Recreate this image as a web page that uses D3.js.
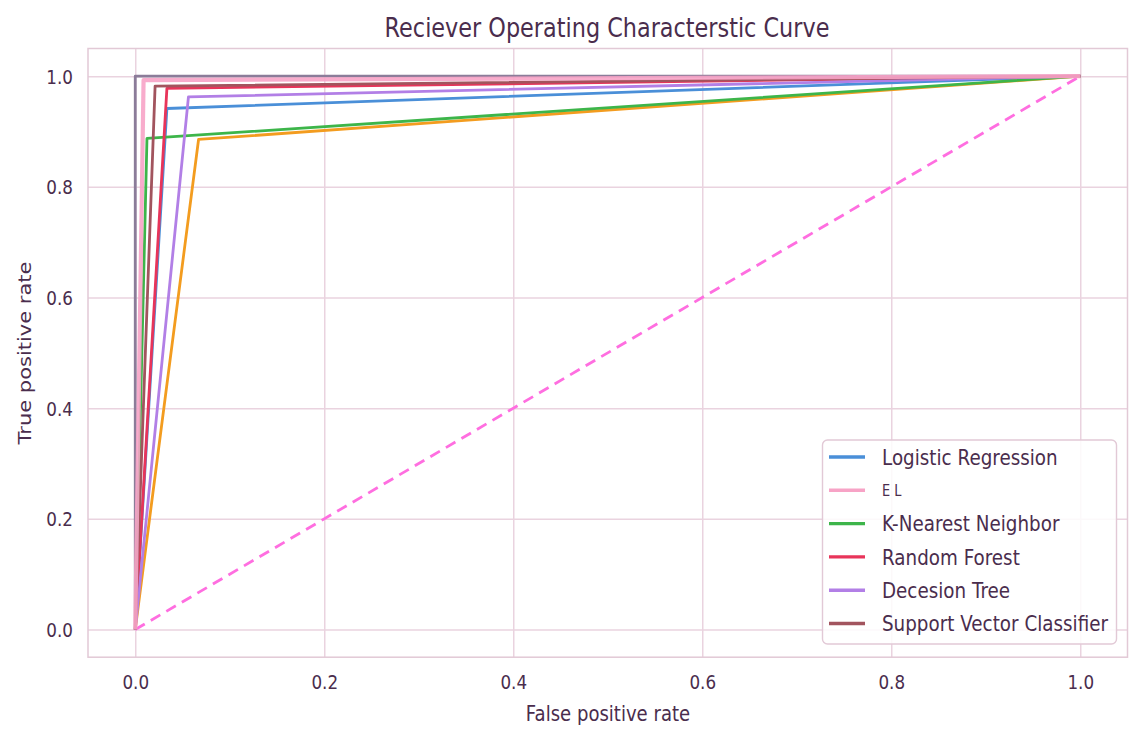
<!DOCTYPE html>
<html><head><meta charset="utf-8">
<script src="https://cdn.jsdelivr.net/npm/d3@7"></script>
<style>body{margin:0;background:#fff}</style>
</head><body>
<svg id="c" width="1132" height="734"></svg>
<script>
// ---- data ----
const xTicks = [0, 0.2, 0.4, 0.6, 0.8, 1.0];
const yTicks = [0, 0.2, 0.4, 0.6, 0.8, 1.0];
const curveNames = ["(unlabeled grey)", "Logistic Regression", "(unlabeled orange)", "K-Nearest Neighbor",
                    "Random Forest", "Decesion Tree", "Support Vector Classifier", "E L"];
const curveFPR = [[0, 0, 1], [0, 0.0335, 1], [0, 0.067, 1], [0, 0.0124, 1],
                  [0, 0.0335, 1], [0, 0.0563, 1], [0, 0.021, 1], [0, 0.0088, 1]];
const curveTPR = [[0, 1.0, 1], [0, 0.9416, 1], [0, 0.8856, 1], [0, 0.8874, 1],
                  [0, 0.978, 1], [0, 0.9626, 1], [0, 0.982, 1], [0, 0.9928, 1]];
const chanceFPR = [0, 1];
const chanceTPR = [0, 1];
const legendNames = ["Logistic Regression", "E L", "K-Nearest Neighbor", "Random Forest",
                     "Decesion Tree", "Support Vector Classifier"];
const titleText = "Reciever Operating Characterstic Curve";
const xLabel = "False positive rate";
const yLabel = "True positive rate";

// ---- styles ----
const colorMap = {
  "(unlabeled grey)": "#8b7c99",
  "Logistic Regression": "#4a8fd8",
  "(unlabeled orange)": "#f39c1f",
  "K-Nearest Neighbor": "#3db54a",
  "Random Forest": "#e8345a",
  "Decesion Tree": "#b27fe6",
  "Support Vector Classifier": "#a2545e",
  "E L": "#f7a3c6"
};
const TXT = "#4a2d4d";
const GRID = "#ead3df";
const FRAME = "#e2c9d6";
const SX = 0.86;
const FONT = "DejaVu Sans";

const svg = d3.select("#c");
const m = {left: 88, right: 1127.5, top: 48.5, bottom: 657.2};
const x = d3.scaleLinear().domain([-0.05, 1.05]).range([m.left, m.right]);
const y = d3.scaleLinear().domain([-0.05, 1.05]).range([m.bottom, m.top]);
const W = m.right - m.left, H = m.bottom - m.top;

// grid
svg.append("g").attr("transform", `translate(0,${m.bottom})`)
  .call(d3.axisBottom(x).tickValues(xTicks).tickSize(-H).tickFormat(""))
  .call(g => g.select(".domain").remove())
  .call(g => g.selectAll("line").attr("stroke", GRID).attr("stroke-width", 1.5));
svg.append("g").attr("transform", `translate(${m.left},0)`)
  .call(d3.axisLeft(y).tickValues(yTicks).tickSize(-W).tickFormat(""))
  .call(g => g.select(".domain").remove())
  .call(g => g.selectAll("line").attr("stroke", GRID).attr("stroke-width", 1.5));

// frame
svg.append("rect").attr("x", m.left).attr("y", m.top).attr("width", W).attr("height", H)
  .attr("fill", "none").attr("stroke", FRAME).attr("stroke-width", 1.5);

// tick labels through axes
svg.append("g").attr("transform", `translate(0,${m.bottom})`)
  .call(d3.axisBottom(x).tickValues(xTicks).tickSize(0).tickFormat(d3.format(".1f")))
  .call(g => g.select(".domain").remove())
  .call(g => g.selectAll("text").attr("y", null).attr("dy", null)
    .attr("transform", `translate(0,32) scale(${SX},1)`)
    .attr("font-family", FONT).attr("font-size", 19.5).attr("fill", TXT));
svg.append("g").attr("transform", `translate(${m.left},0)`)
  .call(d3.axisLeft(y).tickValues(yTicks).tickSize(0).tickFormat(d3.format(".1f")))
  .call(g => g.select(".domain").remove())
  .call(g => g.selectAll("text").attr("x", null).attr("dy", "0.36em")
    .attr("transform", `translate(-15,0) scale(${SX},1)`)
    .attr("font-family", FONT).attr("font-size", 19.5).attr("fill", TXT));

// diagonal
const line = d3.line().x(d => x(d[0])).y(d => y(d[1]));
svg.append("path").datum(d3.zip(chanceFPR, chanceTPR)).attr("d", line)
  .attr("fill", "none").attr("stroke", "#ff6ee0").attr("stroke-width", 2.8)
  .attr("stroke-dasharray", "11,7");

// curves
curveNames.forEach((name, i) => {
  const isEL = name === "E L";
  svg.append("path").datum(d3.zip(curveFPR[i], curveTPR[i])).attr("d", line)
    .attr("fill", "none").attr("stroke", colorMap[name])
    .attr("stroke-width", isEL ? 4.2 : 2.8).attr("stroke-opacity", isEL ? 0.9 : 1)
    .attr("stroke-linejoin", "round");
});

// text helper
function sqText(t, tx, ty, size, anchor, rot) {
  return svg.append("text").text(t)
    .attr("transform", `translate(${tx},${ty}) scale(${SX},1)` + (rot ? ` rotate(${rot})` : ""))
    .attr("font-family", FONT).attr("font-size", size).attr("fill", TXT)
    .attr("text-anchor", anchor);
}
sqText(titleText, 607, 37, 26, "middle");
sqText(xLabel, 608, 721, 21, "middle");
sqText(yLabel, 31, 353, 21, "middle", -90);

// legend
const lg = svg.append("g");
lg.append("rect").attr("x", 822.5).attr("y", 440).attr("width", 294).attr("height", 204)
  .attr("rx", 5).attr("fill", "#fff").attr("fill-opacity", 0.85)
  .attr("stroke", FRAME).attr("stroke-width", 1.4);
legendNames.forEach((name, i) => {
  const cy = 457 + i * 33.3;
  lg.append("line").attr("x1", 829).attr("x2", 865).attr("y1", cy).attr("y2", cy)
    .attr("stroke", colorMap[name]).attr("stroke-width", 3.4);
  const small = name === "E L";
  lg.append("text").text(name)
    .attr("transform", `translate(882,${cy}) scale(${SX},1)`)
    .attr("dy", "0.36em").attr("font-family", FONT).attr("font-size", small ? 15 : 21.3)
    .attr("fill", TXT);
});
</script>
</body></html>
